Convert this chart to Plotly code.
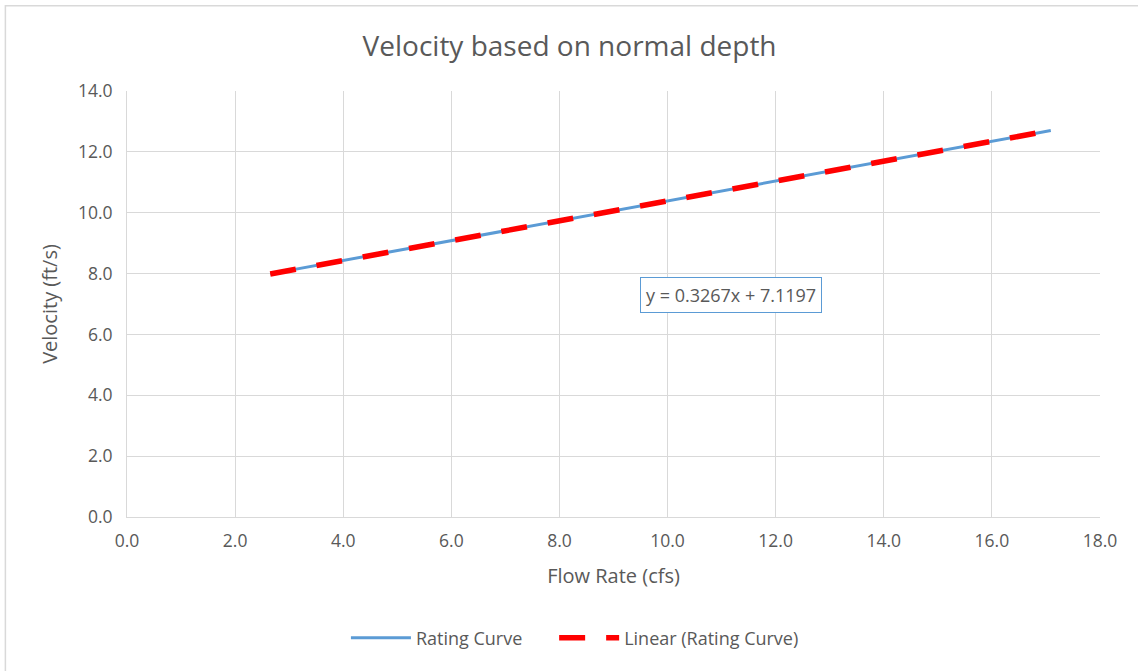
import plotly.graph_objects as go

# Rating curve: flow rate (cfs) vs velocity at normal depth (ft/s)
flow_cfs = [2.65, 4.0, 5.5, 7.0, 8.5, 10.0, 11.5, 13.0, 14.5, 16.0, 17.09]
velocity_fps = [7.99, 8.43, 8.92, 9.41, 9.90, 10.39, 10.88, 11.37, 11.86, 12.35, 12.70]

# Linear trendline coefficients
slope = 0.3267
intercept = 7.1197

x_ticks = [0, 2, 4, 6, 8, 10, 12, 14, 16, 18]
y_ticks = [0, 2, 4, 6, 8, 10, 12, 14]

trend_x = [min(flow_cfs), max(flow_cfs)]
trend_y = [slope * x + intercept for x in trend_x]

FONT = "Open Sans"
GREY_TXT = "#595959"
GRID = "#D9D9D9"

fig = go.Figure()
fig.add_trace(go.Scatter(
    x=flow_cfs, y=velocity_fps, mode="lines", name="Rating Curve",
    line=dict(color="#5B9BD5", width=3), legend="legend", showlegend=True,
))
fig.add_trace(go.Scatter(
    x=trend_x, y=trend_y, mode="lines", name="Linear (Rating Curve)",
    line=dict(color="#FF0000", width=5.5, dash="26px,21px"), legend="legend2",
    showlegend=True,
))

legend_style = dict(orientation="h", xanchor="left", y=-0.284, yanchor="middle",
                    font=dict(size=18, color=GREY_TXT), itemwidth=60,
                    bgcolor="rgba(0,0,0,0)", visible=True)

fig.update_layout(
    width=1138, height=671,
    margin=dict(l=127, r=38, t=91, b=154),
    paper_bgcolor="white", plot_bgcolor="white",
    showlegend=True,
    font=dict(family=FONT, color=GREY_TXT, size=17),
    title=dict(text="Velocity based on normal depth", x=0.5005, xanchor="center",
               y=0.931, yanchor="middle",
               font=dict(family=FONT, size=28, color=GREY_TXT)),
    xaxis=dict(
        range=[0, 18], tickvals=x_ticks, ticktext=[f"{v:.1f}" for v in x_ticks],
        showgrid=True, gridcolor=GRID, gridwidth=1,
        showline=True, linecolor=GRID, linewidth=1, zeroline=False,
        ticks="", ticklabelstandoff=8,
        title=dict(text="Flow Rate (cfs)", font=dict(size=20, color=GREY_TXT), standoff=17),
        tickfont=dict(size=17.5, color=GREY_TXT),
    ),
    yaxis=dict(
        range=[0, 14], tickvals=y_ticks, ticktext=[f"{v:.1f}" for v in y_ticks],
        showgrid=True, gridcolor=GRID, gridwidth=1,
        showline=True, linecolor=GRID, linewidth=1, zeroline=False,
        ticks="", ticklabelstandoff=10,
        title=dict(text="Velocity (ft/s)", font=dict(size=20, color=GREY_TXT), standoff=14),
        tickfont=dict(size=17.5, color=GREY_TXT),
    ),
    legend=dict(x=0.225, **legend_style),
    legend2=dict(x=0.439, **legend_style),
    annotations=[dict(
        x=11.17, y=7.30, xref="x", yref="y", showarrow=False,
        text=f"y = {slope}x + {intercept}",
        font=dict(size=18, color=GREY_TXT),
        bordercolor="#5B9BD5", borderwidth=1, borderpad=5, bgcolor="white",
    )],
    shapes=[dict(
        type="rect", xref="paper", yref="paper",
        x0=-0.125, x1=1.06, y0=-0.4, y1=1.2, line=dict(color="#D9D9D9", width=1.5),
        layer="below",
    )],
)

fig.write_html("out.html")
